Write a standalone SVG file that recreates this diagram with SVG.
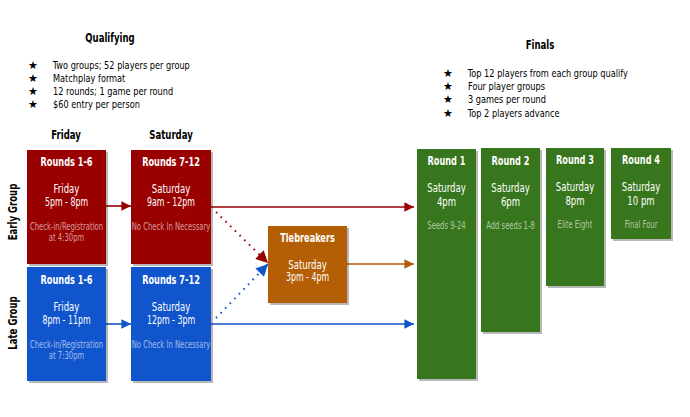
<svg xmlns="http://www.w3.org/2000/svg" width="690" height="417" viewBox="0 0 690 417">
<defs>
<style>
text{font-family:"DejaVu Sans Condensed","DejaVu Sans",sans-serif;transform-box:fill-box;transform-origin:center;transform:scaleX(0.76)}
.h{font-weight:bold;font-size:12.5px;fill:#000;text-anchor:middle}
text.b{font-size:11px;fill:#000;transform-origin:left;transform:scaleX(0.83)}
text.star{font-family:"DejaVu Sans",sans-serif;font-size:11px;fill:#000;transform:none}
.t{font-weight:bold;font-size:12px;fill:#fff;text-anchor:middle}
.d{font-size:12.5px;fill:#fff;text-anchor:middle}
.tm{font-size:11.5px;fill:#fff;text-anchor:middle}
.s{font-size:10px;fill:#fff;fill-opacity:0.6;text-anchor:middle}
.red{fill:#990000}.blue{fill:#1155cc}.org{fill:#b45f06}.grn{fill:#38761d}
.sh{fill:#000;fill-opacity:0.28}
</style>
<marker id="ar" viewBox="0 0 10 10" refX="10" refY="5" markerWidth="7" markerHeight="6" orient="auto"><path d="M0,0L10,5L0,10z" fill="#990000"/></marker>
<marker id="ab" viewBox="0 0 10 10" refX="10" refY="5" markerWidth="7" markerHeight="6" orient="auto"><path d="M0,0L10,5L0,10z" fill="#1155cc"/></marker>
<marker id="ao" viewBox="0 0 10 10" refX="10" refY="5" markerWidth="7" markerHeight="6" orient="auto"><path d="M0,0L10,5L0,10z" fill="#b45f06"/></marker>
</defs>
<rect width="690" height="417" fill="#fff"/>

<g id="qualifying">
<text class="h" x="110" y="42">Qualifying</text>
<text class="star" x="28" y="69">★</text><text class="b" x="53" y="69">Two groups; 52 players per group</text>
<text class="star" x="28" y="82">★</text><text class="b" x="53" y="82">Matchplay format</text>
<text class="star" x="28" y="95">★</text><text class="b" x="53" y="95">12 rounds; 1 game per round</text>
<text class="star" x="28" y="108">★</text><text class="b" x="53" y="108">$60 entry per person</text>
</g>
<g id="finals">
<text class="h" x="540" y="49">Finals</text>
<text class="star" x="443" y="77">★</text><text class="b" x="468" y="77">Top 12 players from each group qualify</text>
<text class="star" x="443" y="90">★</text><text class="b" x="468" y="90">Four player groups</text>
<text class="star" x="443" y="103">★</text><text class="b" x="468" y="103">3 games per round</text>
<text class="star" x="443" y="117">★</text><text class="b" x="468" y="117">Top 2 players advance</text>
</g>
<g id="headers">
<text class="h" x="66" y="139">Friday</text>
<text class="h" x="171" y="139">Saturday</text>
<g transform="translate(17,212) rotate(-90)"><text class="h" x="0" y="0">Early Group</text></g>
<g transform="translate(17,323) rotate(-90)"><text class="h" x="0" y="0">Late Group</text></g>
</g>

<g id="connectors" fill="none" stroke-width="1.6">
<line x1="106" y1="206" x2="131" y2="206" stroke="#990000" marker-end="url(#ar)"/>
<line x1="106" y1="324" x2="131" y2="324" stroke="#1155cc" marker-end="url(#ab)"/>
<line x1="211" y1="207" x2="414" y2="207" stroke="#990000" marker-end="url(#ar)"/>
<line x1="347" y1="264" x2="414" y2="264" stroke="#b45f06" marker-end="url(#ao)"/>
<line x1="211" y1="324" x2="414" y2="324" stroke="#1155cc" marker-end="url(#ab)"/>
<line x1="216" y1="212" x2="268" y2="263" stroke="#990000" stroke-dasharray="1.6 5" stroke-width="2" marker-end="url(#ar)"/>
<line x1="216" y1="318" x2="268" y2="264" stroke="#1155cc" stroke-dasharray="1.6 5" stroke-width="2" marker-end="url(#ab)"/>
</g>

<g id="early-r1-6">
<rect class="sh" x="29" y="152" width="79" height="114"/>
<rect class="red" x="27" y="150" width="79" height="114"/>
<text class="t" x="66.5" y="166">Rounds 1-6</text>
<text class="d" x="66.5" y="193">Friday</text>
<text class="tm" x="66.5" y="206">5pm - 8pm</text>
<text class="s" x="66.5" y="230">Check-in/Registration</text>
<text class="s" x="66.5" y="241">at  4:30pm</text>
</g>
<g id="early-r7-12">
<rect class="sh" x="133" y="152" width="80" height="114"/>
<rect class="red" x="131" y="150" width="80" height="114"/>
<text class="t" x="171" y="166">Rounds 7-12</text>
<text class="d" x="171" y="193">Saturday</text>
<text class="tm" x="171" y="206">9am - 12pm</text>
<text class="s" x="171" y="230">No Check In Necessary</text>
</g>
<g id="late-r1-6">
<rect class="sh" x="29" y="269" width="79" height="114"/>
<rect class="blue" x="27" y="267" width="79" height="114"/>
<text class="t" x="66.5" y="284">Rounds 1-6</text>
<text class="d" x="66.5" y="311">Friday</text>
<text class="tm" x="66.5" y="324">8pm - 11pm</text>
<text class="s" x="66.5" y="348">Check-in/Registration</text>
<text class="s" x="66.5" y="359">at  7:30pm</text>
</g>
<g id="late-r7-12">
<rect class="sh" x="133" y="269" width="80" height="114"/>
<rect class="blue" x="131" y="267" width="80" height="114"/>
<text class="t" x="171" y="284">Rounds 7-12</text>
<text class="d" x="171" y="311">Saturday</text>
<text class="tm" x="171" y="324">12pm - 3pm</text>
<text class="s" x="171" y="348">No Check In Necessary</text>
</g>
<g id="tiebreakers">
<rect class="sh" x="270" y="228" width="79" height="77"/>
<rect class="org" x="268" y="226" width="79" height="77"/>
<text class="t" x="307.5" y="242">Tiebreakers</text>
<text class="d" x="307.5" y="269">Saturday</text>
<text class="tm" x="307.5" y="281">3pm - 4pm</text>
</g>
<g id="round1">
<rect class="sh" x="419" y="151" width="59" height="230"/>
<rect class="grn" x="417" y="149" width="59" height="230"/>
<text class="t" x="446.5" y="165">Round 1</text>
<text class="d" x="446.5" y="192">Saturday</text>
<text class="d" x="446.5" y="206">4pm</text>
<text class="s" x="446.5" y="229">Seeds 9-24</text>
</g>
<g id="round2">
<rect class="sh" x="483" y="150" width="59" height="184"/>
<rect class="grn" x="481" y="148" width="59" height="184"/>
<text class="t" x="510.5" y="165">Round 2</text>
<text class="d" x="510.5" y="192">Saturday</text>
<text class="d" x="510.5" y="206">6pm</text>
<text class="s" x="510.5" y="229">Add seeds 1-8</text>
</g>
<g id="round3">
<rect class="sh" x="548" y="150" width="58" height="138"/>
<rect class="grn" x="546" y="148" width="58" height="138"/>
<text class="t" x="575" y="164">Round 3</text>
<text class="d" x="575" y="191">Saturday</text>
<text class="d" x="575" y="205">8pm</text>
<text class="s" x="575" y="228">Elite Eight</text>
</g>
<g id="round4">
<rect class="sh" x="613" y="150" width="60" height="91"/>
<rect class="grn" x="611" y="148" width="60" height="91"/>
<text class="t" x="641" y="164">Round 4</text>
<text class="d" x="641" y="191">Saturday</text>
<text class="d" x="641" y="205">10 pm</text>
<text class="s" x="641" y="228">Final Four</text>
</g>
</svg>
